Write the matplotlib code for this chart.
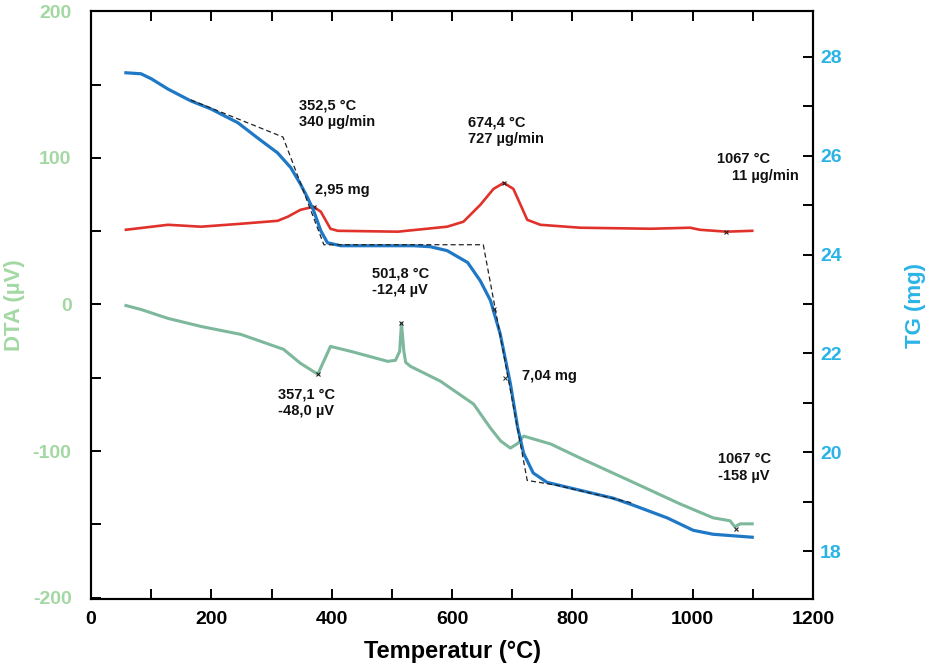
import numpy as np
import matplotlib
matplotlib.use('Agg')
import matplotlib.pyplot as plt
from matplotlib.ticker import MultipleLocator

plt.rcParams['font.family'] = ['Liberation Sans', 'DejaVu Sans']
plt.rcParams['axes.unicode_minus'] = False

# TG curve (right axis, mg)
tg_temp = [58, 83, 100, 128, 166, 199, 244, 277, 310, 332, 348, 360, 370, 382, 393,
           415, 536, 564, 592, 626, 647, 664, 680, 697, 709, 719, 735, 758, 813, 868,
           901, 958, 1001, 1034, 1099]
tg_mass = [27.68, 27.66, 27.56, 27.35, 27.11, 26.95, 26.67, 26.36, 26.06, 25.76, 25.43,
           25.15, 24.89, 24.48, 24.24, 24.18, 24.18, 24.16, 24.08, 23.84, 23.47, 23.07,
           22.40, 21.39, 20.51, 19.98, 19.58, 19.39, 19.23, 19.07, 18.93, 18.67, 18.42,
           18.34, 18.28]

# DTG curve (drawn on left axis scale)
dtg_temp = [58, 128, 183, 249, 310, 327, 348, 370, 382, 398, 410, 510, 592, 619, 647,
            669, 686, 702, 714, 725, 747, 813, 930, 996, 1012, 1056, 1099]
dtg_val = [51.0, 54.4, 53.1, 55.1, 57.1, 59.9, 64.6, 66.7, 63.3, 51.7, 50.3, 49.7, 53.1,
           56.5, 68.0, 78.9, 83.0, 78.9, 68.0, 57.8, 54.4, 52.4, 51.7, 52.4, 51.0, 49.7, 50.3]

# DTA curve (left axis, uV)
dta_temp = [58, 83, 128, 183, 249, 320, 348, 377, 398, 432, 493, 506, 513, 516, 520, 523,
            531, 581, 636, 664, 681, 697, 710, 719, 764, 813, 896, 979, 1034, 1062, 1070,
            1079, 1099]
dta_val = [-0.7, -3.4, -9.5, -15.0, -20.4, -30.6, -40.1, -47.6, -28.6, -32.0, -38.8, -38.1,
           -32.0, -12.9, -32.0, -39.5, -42.2, -52.4, -68.0, -84.4, -93.2, -98.0, -94.6,
           -89.8, -95.2, -104.8, -120.4, -136.1, -145.6, -147.6, -151.7, -149.7, -149.7]

# step tangents on TG
tan_temp = [166, 319, 387, 652, 725, 775, 901]
tan_mass = [27.13, 26.38, 24.20, 24.20, 19.43, 19.33, 18.97]

# evaluation marks
mark_dtg_t = [370, 686, 1056]
mark_dtg_v = [66.7, 83.0, 49.7]
mark_dta_t = [377, 516, 1072]
mark_dta_v = [-47.6, -12.9, -153.0]
mark_tg_t = [669, 688]
mark_tg_m = [22.9, 21.5]

green = '#7db89c'
red = '#e0322b'
blue = '#1f78c6'
lab_green = '#a3d8a3'
lab_cyan = '#2ab4e6'

fig = plt.figure(figsize=(9.25, 6.64), dpi=100)
ax = fig.add_axes([0.0984, 0.0979, 0.7805, 0.8855])
ax2 = ax.twinx()

ax.plot(dtg_temp, dtg_val, color=red, lw=1.9)
ax.plot(dta_temp, dta_val, color=green, lw=2.2)
ax.plot(mark_dtg_t, mark_dtg_v, 'x', color='#222222', ms=3, mew=0.8)
ax.plot(mark_dta_t, mark_dta_v, 'x', color='#222222', ms=3, mew=0.8)

ax2.plot(tg_temp, tg_mass, color=blue, lw=2.3)
ax2.plot(tan_temp, tan_mass, color='#222222', lw=0.9, ls=(0, (4, 2.5)))
ax2.plot(mark_tg_t, mark_tg_m, 'x', color='#222222', ms=2.5, mew=0.7)

ax.set_xlim(0, 1200)
ax.set_ylim(-201, 200.3)
ax2.set_ylim(17.03, 28.93)

ax.xaxis.set_major_locator(MultipleLocator(200))
ax.xaxis.set_minor_locator(MultipleLocator(100))
ax.yaxis.set_major_locator(MultipleLocator(100))
ax.yaxis.set_minor_locator(MultipleLocator(50))
ax2.yaxis.set_major_locator(MultipleLocator(2))
ax2.yaxis.set_minor_locator(MultipleLocator(1))

ax.tick_params(axis='x', which='both', direction='in', top=True, length=7, width=1.4,
               pad=9, labelsize=14)
ax.tick_params(axis='y', which='both', direction='in', length=7, width=1.4, pad=14,
               labelsize=14, labelcolor=lab_green)
ax2.tick_params(axis='y', which='both', direction='in', length=7, width=1.4, pad=5,
                labelsize=14, labelcolor=lab_cyan)
for lab in ax.get_xticklabels() + ax.get_yticklabels() + ax2.get_yticklabels():
    lab.set_fontweight('bold')

for sp in list(ax.spines.values()) + list(ax2.spines.values()):
    sp.set_linewidth(1.5)

ax.set_xlabel('Temperatur (°C)', fontsize=17, fontweight='bold', labelpad=8)
ax.set_ylabel('DTA (µV)', fontsize=16, fontweight='bold', color=lab_green)
ax.yaxis.set_label_coords(-0.091, 0.5)
ax2.set_ylabel('TG (mg)', fontsize=16, fontweight='bold', color=lab_cyan)
ax2.yaxis.set_label_coords(1.127, 0.5)

tkw = dict(fontsize=10.5, color='#111111', fontweight='bold', va='center', linespacing=1.25)
ax.text(345, 130, '352,5 °C\n340 µg/min', ha='left', **tkw)
ax.text(373, 78, '2,95 mg', ha='left', **tkw)
ax.text(627, 118.5, '674,4 °C\n727 µg/min', ha='left', **tkw)
ax.text(1041, 99, '1067 °C', ha='left', **tkw)
ax.text(1066, 87.5, '11 µg/min', ha='left', **tkw)
ax.text(514, 15.5, '501,8 °C\n-12,4 µV', ha='center', **tkw)
ax.text(311, -67, '357,1 °C\n-48,0 µV', ha='left', **tkw)
ax.text(717, -49, '7,04 mg', ha='left', **tkw)
ax.text(1042, -111.5, '1067 °C\n-158 µV', ha='left', **tkw)

fig.savefig('out.png', dpi=100)
